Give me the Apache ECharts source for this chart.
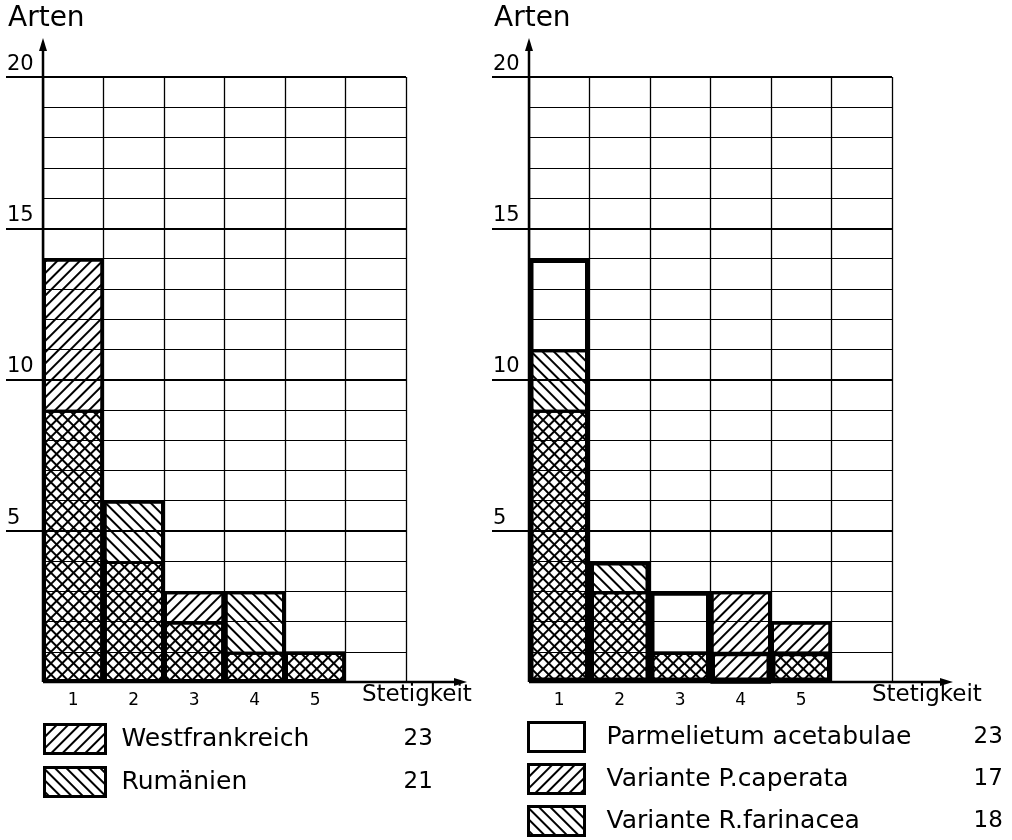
<!DOCTYPE html>
<html>
<head>
<meta charset="utf-8">
<script src="https://cdn.jsdelivr.net/npm/echarts@6/dist/echarts.min.js"></script>
<style>
  html, body { margin: 0; background: #fff; }
  #chart { width: 1012px; height: 840px; }
</style>
</head>
<body>
<div id="chart"></div>
<script>
// Stetigkeitsklassen (6. Spalte leer)
const categories = ['1', '2', '3', '4', '5', ''];

// linke Grafik
const westfrankreich = [14, 4, 3, 1, 1];
const rumaenien = [9, 6, 2, 3, 1];
const leftNames = ['Westfrankreich', 'Rumänien'];
const leftTotals = ['23', '21'];

// rechte Grafik
const parmelietum = [14, 4, 3, 1, 1];
const caperata = [9, 3, 1, 3, 2];
const farinacea = [11, 4, 1, 0, 1];
const rightNames = ['Parmelietum acetabulae', 'Variante P.caperata', 'Variante R.farinacea'];
const rightTotals = ['23', '17', '18'];

const yMajor = [5, 10, 15, 20];

const FONT = 'DejaVu Sans';
const GL = { left: 43, top: 77, width: 363, height: 605 };
const GR = { left: 529, top: 77, width: 363, height: 605 };

// Schraffuren
const slash = { symbol: 'rect', symbolSize: 1, dashArrayX: [1, 0], dashArrayY: [1.6, 5.6], rotation: -Math.PI / 4, color: '#000', backgroundColor: 'rgba(0,0,0,0)' };
const backslash = Object.assign({}, slash, { rotation: Math.PI / 4 });

const chart = echarts.init(document.getElementById('chart'));

function xAxisFor(gridIndex) {
    return {
        type: 'category',
        gridIndex: gridIndex,
        data: categories,
        boundaryGap: true,
        axisLine: { show: false },
        axisTick: { show: false },
        axisLabel: { color: '#000', fontFamily: FONT, fontSize: 17, margin: 10 },
        splitLine: { show: true, interval: 0, lineStyle: { color: '#000', width: 1.3 } }
    };
}

function minorY(gridIndex) {
    return {
        type: 'value', gridIndex: gridIndex, position: 'left', min: 0, max: 20, interval: 1,
        axisLine: { show: false }, axisTick: { show: false }, axisLabel: { show: false },
        splitLine: { lineStyle: { color: '#000', width: 1.1 } }
    };
}

function majorY(gridIndex) {
    return {
        type: 'value', gridIndex: gridIndex, position: 'left', min: 0, max: 20, interval: 5,
        axisLine: { show: false },
        axisTick: { show: true, customValues: yMajor, length: 37, lineStyle: { color: '#000', width: 2 } },
        axisLabel: {
            customValues: yMajor, color: '#000', fontFamily: FONT, fontSize: 21,
            align: 'left', verticalAlign: 'bottom', margin: 36, padding: [0, 0, 2, 0]
        },
        splitLine: { show: true, lineStyle: { color: '#000', width: 2 } }
    };
}

function bar(name, data, gi, decal, bw) {
    const style = { color: 'rgba(0,0,0,0)', borderColor: '#000', borderWidth: bw };
    if (decal) style.decal = decal;
    return {
        name: name, type: 'bar', data: data,
        xAxisIndex: gi, yAxisIndex: gi * 2,
        barWidth: '100%', barGap: '-100%',
        silent: true,
        itemStyle: style
    };
}

function legendFor(names, totals, left, bottom, iconW, pad, nameWidth, gap) {
    return {
        data: names, orient: 'vertical', left: left, bottom: bottom, padding: 0,
        icon: 'rect', itemWidth: iconW, itemHeight: 29, itemGap: gap,
        selectedMode: false,
        itemStyle: { borderWidth: 3, borderColor: '#000' },
        formatter: function (n) {
            return '{n|' + n + '}{v|' + totals[names.indexOf(n)] + '}';
        },
        textStyle: {
            color: '#000', fontFamily: FONT, fontSize: 25, lineHeight: 28,
            rich: {
                n: { width: nameWidth, fontSize: 25, lineHeight: 28, fontFamily: FONT, padding: [0, 0, 0, pad] },
                v: { fontSize: 23, lineHeight: 28, fontFamily: FONT }
            }
        }
    };
}

// Achsen mit Pfeilen und Achsentitel
function axisDecor(g, nameX) {
    const x0 = g.left, y0 = g.top + g.height;
    const xEnd = g.left + g.width + 61, yEnd = g.top - 39;
    return [
        { type: 'line', shape: { x1: x0, y1: y0, x2: x0, y2: yEnd + 8 }, style: { stroke: '#000', lineWidth: 2.5 }, z: 50 },
        { type: 'polygon', shape: { points: [[x0, yEnd], [x0 - 4, yEnd + 13], [x0 + 4, yEnd + 13]] }, style: { fill: '#000' }, z: 50 },
        { type: 'line', shape: { x1: x0, y1: y0, x2: xEnd - 8, y2: y0 }, style: { stroke: '#000', lineWidth: 2.5 }, z: 50 },
        { type: 'polygon', shape: { points: [[xEnd, y0], [xEnd - 13, y0 - 4], [xEnd - 13, y0 + 4]] }, style: { fill: '#000' }, z: 50 },
        { type: 'text', left: x0 - 35, top: 5, style: { text: 'Arten', font: '28px "' + FONT + '"', fill: '#000' }, z: 50 },
        { type: 'text', left: nameX, top: 684, style: { text: 'Stetigkeit', font: '23px "' + FONT + '"', fill: '#000' }, z: 50 }
    ];
}

const option = {
    backgroundColor: '#fff',
    animation: false,
    grid: [
        Object.assign({ containLabel: false }, GL),
        Object.assign({ containLabel: false }, GR)
    ],
    xAxis: [xAxisFor(0), xAxisFor(1)],
    yAxis: [minorY(0), majorY(0), minorY(1), majorY(1)],
    legend: [
        legendFor(leftNames, leftTotals, 43, 42, 61, 11, 282, 11),
        legendFor(rightNames, rightTotals, 527, 3, 56, 17, 367, 10)
    ],
    series: [
        bar('Westfrankreich', westfrankreich, 0, slash, 3),
        bar('Rumänien', rumaenien, 0, backslash, 3),
        bar('Variante P.caperata', caperata, 1, slash, 3),
        bar('Variante R.farinacea', farinacea, 1, backslash, 3),
        bar('Parmelietum acetabulae', parmelietum, 1, null, 4.5)
    ],
    graphic: axisDecor(GL, 362).concat(axisDecor(GR, 872))
};

chart.setOption(option);
</script>
</body>
</html>
